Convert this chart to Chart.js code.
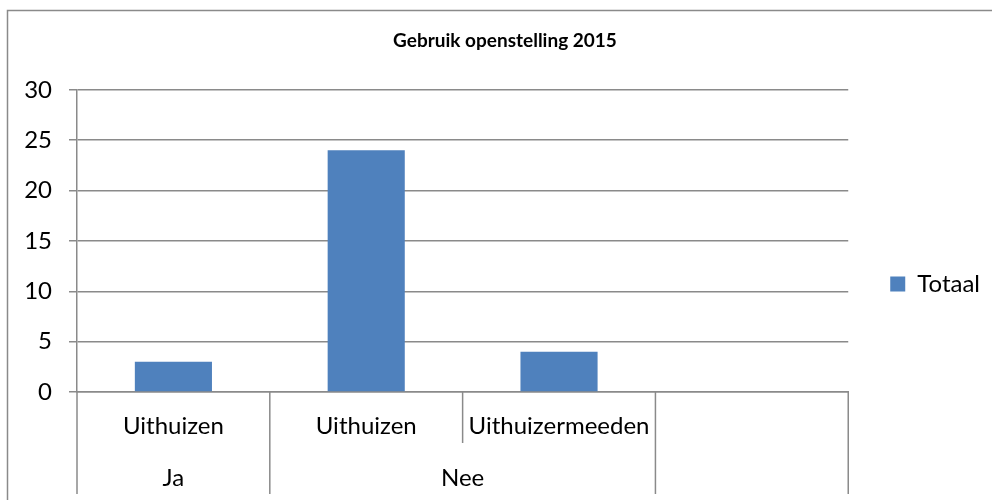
<!DOCTYPE html>
<html>
<head>
<meta charset="utf-8">
<script src="https://cdn.jsdelivr.net/npm/chart.js@4"></script>
<style>
  html, body { margin: 0; padding: 0; background: #fff; overflow: hidden; }
  #wrap { width: 992px; height: 500px; }
</style>
</head>
<body>
<div id="wrap"><canvas id="chart" width="992" height="500"></canvas></div>
<script>
// chart data
const categories = ['Uithuizen', 'Uithuizen', 'Uithuizermeeden', ''];
const groups = ['Ja', 'Nee', 'Nee', ''];
const totaal = [3, 24, 4, null];
const yMax = 30;
const yStep = 5;

const lineGray = '#8a8a8a';
const labelFont = '24px Lato';

// border round the whole chart (only top and left are in view)
const frame = {
    id: 'frame',
    beforeDraw(chart) {
        const ctx = chart.ctx;
        ctx.save();
        ctx.fillStyle = '#fff';
        ctx.fillRect(0, 0, chart.width, chart.height);
        ctx.strokeStyle = lineGray;
        ctx.lineWidth = 1.5;
        ctx.beginPath();
        ctx.moveTo(7.5, chart.height);
        ctx.lineTo(7.5, 10.5);
        ctx.lineTo(chart.width, 10.5);
        ctx.stroke();
        ctx.restore();
    }
};

// two-level category axis below the plot
const multiLevel = {
    id: 'multiLevel',
    afterDraw(chart) {
        const ctx = chart.ctx;
        const x = chart.scales.x;
        const top = x.top;
        const bottom = top + 102;
        const half = top + 51;
        const n = categories.length;
        const step = (x.right - x.left) / n;
        const edge = i => x.getPixelForValue(i) - step / 2;

        ctx.save();
        ctx.strokeStyle = lineGray;
        ctx.lineWidth = 1.5;
        for (let i = 0; i <= n; i++) {
            const full = i === 0 || i === n || groups[i] !== groups[i - 1];
            ctx.beginPath();
            ctx.moveTo(edge(i), top);
            ctx.lineTo(edge(i), full ? bottom : half);
            ctx.stroke();
        }

        ctx.fillStyle = '#000';
        ctx.font = labelFont;
        ctx.textAlign = 'center';
        ctx.textBaseline = 'middle';
        categories.forEach((c, i) => {
            ctx.fillText(c, x.getPixelForValue(i), top + 34);
        });

        let start = 0;
        for (let i = 1; i <= n; i++) {
            if (i === n || groups[i] !== groups[start]) {
                const mid = (edge(start) + edge(i)) / 2;
                ctx.fillText(groups[start], mid, top + 86);
                start = i;
            }
        }
        ctx.restore();
    }
};

const ctx = document.getElementById('chart').getContext('2d');
new Chart(ctx, {
    type: 'bar',
    data: {
        labels: categories,
        datasets: [{
            label: 'Totaal',
            data: totaal,
            backgroundColor: '#4f81bd',
            borderWidth: 0,
            barPercentage: 0.4,
            categoryPercentage: 1
        }]
    },
    options: {
        responsive: false,
        animation: false,
        devicePixelRatio: 1,
        layout: {
            padding: { left: 20, top: 10, right: 2, bottom: 6 }
        },
        plugins: {
            title: {
                display: true,
                text: 'Gebruik openstelling 2015',
                color: '#000',
                font: { family: 'Lato', size: 19, weight: 'bold' },
                padding: { top: 19, bottom: 38 }
            },
            legend: {
                position: 'right',
                title: {
                    display: true,
                    text: ' ',
                    font: { family: 'Lato', size: 20 },
                    padding: { top: 0, bottom: 40 }
                },
                labels: {
                    color: '#000',
                    font: { family: 'Lato', size: 24 },
                    boxWidth: 15,
                    boxHeight: 15,
                    padding: 42
                }
            },
            tooltip: { enabled: false }
        },
        scales: {
            x: {
                grid: { display: false },
                border: { display: true, color: lineGray, width: 1.5 },
                ticks: { display: false },
                afterFit: s => { s.height = 102; }
            },
            y: {
                min: 0,
                max: yMax,
                ticks: {
                    stepSize: yStep,
                    color: '#000',
                    padding: 17,
                    font: { family: 'Lato', size: 24 }
                },
                grid: { color: lineGray, lineWidth: 1.5, tickLength: 8 },
                border: { display: true, color: lineGray, width: 1.5 },
                afterFit: s => { s.width = 57; }
            }
        }
    },
    plugins: [frame, multiLevel]
});
</script>
</body>
</html>
